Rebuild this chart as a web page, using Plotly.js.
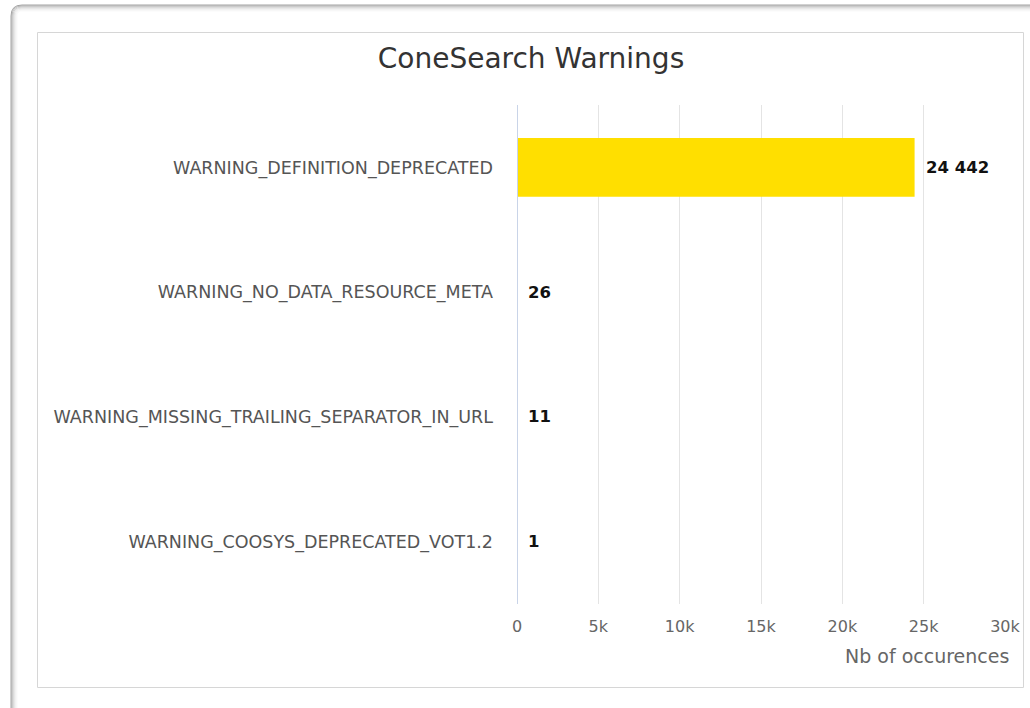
<!DOCTYPE html>
<html>
<head>
<meta charset="utf-8">
<script src="https://cdn.plot.ly/plotly-3.0.1.min.js"></script>
<style>
html,body{margin:0;padding:0;background:#fff;}
#chart{width:1030px;height:708px;}
</style>
</head>
<body>
<div id="chart"></div>
<script>
const categories = [
  "WARNING_DEFINITION_DEPRECATED",
  "WARNING_NO_DATA_RESOURCE_META",
  "WARNING_MISSING_TRAILING_SEPARATOR_IN_URL",
  "WARNING_COOSYS_DEPRECATED_VOT1.2"
];
const counts = [24442, 26, 11, 1];
const tickValues = [0, 5000, 10000, 15000, 20000, 25000, 30000];
const tickLabels = ["0", "5k", "10k", "15k", "20k", "25k", "30k"];
const chartTitle = "ConeSearch Warnings";
const axisTitle = "Nb of occurences";

const W = 1030, H = 708;
const L = 517, R = 1005, T = 105, B = 604;
function px(x){ return (x - L) / (R - L); }
function py(y){ return (B - y) / (B - T); }
const FONT = 'DejaVu Sans, Verdana, sans-serif';

function spaceThousands(v){
  return String(v).replace(/\B(?=(\d{3})+(?!\d))/g, ' ');
}

const shapes = [];
const shadeCols = [0.55, 0.40, 0.28, 0.18, 0.11, 0.06, 0.03];
shadeCols.forEach((a, i) => {
  shapes.push({type:'line', xref:'paper', yref:'paper',
    x0:px(11+i), x1:px(11+i), y0:py(16), y1:py(708),
    line:{color:`rgba(90,90,90,${a})`, width:1}});
  shapes.push({type:'line', xref:'paper', yref:'paper',
    x0:px(22), x1:px(1030), y0:py(5+i), y1:py(5+i),
    line:{color:`rgba(90,90,90,${a})`, width:1}});
  shapes.push({type:'path', xref:'paper', yref:'paper',
    path:`M ${px(11+i)} ${py(16)} Q ${px(11+i)} ${py(5+i)} ${px(22)} ${py(5+i)}`,
    line:{color:`rgba(90,90,90,${a})`, width:1}});
});
shapes.push({type:'rect', xref:'paper', yref:'paper',
  x0:px(37.5), x1:px(1023.5), y0:py(687.5), y1:py(32.5),
  line:{color:'#d6d6d6', width:1}, fillcolor:'rgba(0,0,0,0)', layer:'below'});
shapes.push({type:'line', xref:'x', yref:'paper', x0:0, x1:0, y0:0, y1:1,
  line:{color:'#c9d4e8', width:2}});

const data = [{
  type:'bar',
  orientation:'h',
  y: categories,
  x: counts,
  marker:{color:'#ffdf00'},
  width:0.47,
  hoverinfo:'x+y'
}];

const valueAnnotations = counts.map((v, i) => ({
  x: v, y: categories[i], xref:'x', yref:'y',
  text: spaceThousands(v),
  xanchor:'left', yanchor:'middle', xshift:9, showarrow:false,
  font:{family:FONT, size:16.5, color:'#111', weight:700}
}));

const layout = {
  width: W, height: H,
  margin:{l:L, r:W-R, t:T, b:H-B, pad:0},
  paper_bgcolor:'#fff', plot_bgcolor:'#fff',
  showlegend:false,
  title:{text:chartTitle, xref:'paper', x:px(531), xanchor:'center',
    yref:'container', y:1-58/H, yanchor:'middle',
    font:{family:FONT, size:28, color:'#333'}},
  xaxis:{
    range:[0, 30000],
    tickvals:tickValues, ticktext:tickLabels,
    showgrid:true, gridcolor:'#e4e4e4', gridwidth:1,
    zeroline:false, showline:false,
    ticks:'', ticklabelstandoff:11,
    tickfont:{family:FONT, size:16, color:'#666'},
    fixedrange:true
  },
  yaxis:{
    categoryorder:'array', categoryarray:categories.slice().reverse(),
    showgrid:false, zeroline:false, showline:false,
    ticks:'', ticklabelstandoff:23,
    tickfont:{family:FONT, size:17.5, color:'#555'},
    fixedrange:true
  },
  shapes: shapes,
  annotations: valueAnnotations.concat([{text:axisTitle, xref:'paper', yref:'paper', x:px(1011), xanchor:'right',
    y:py(656), yanchor:'middle', showarrow:false,
    font:{family:FONT, size:19, color:'#666'}}])
};

Plotly.newPlot('chart', data, layout, {displayModeBar:false});
</script>
</body>
</html>
